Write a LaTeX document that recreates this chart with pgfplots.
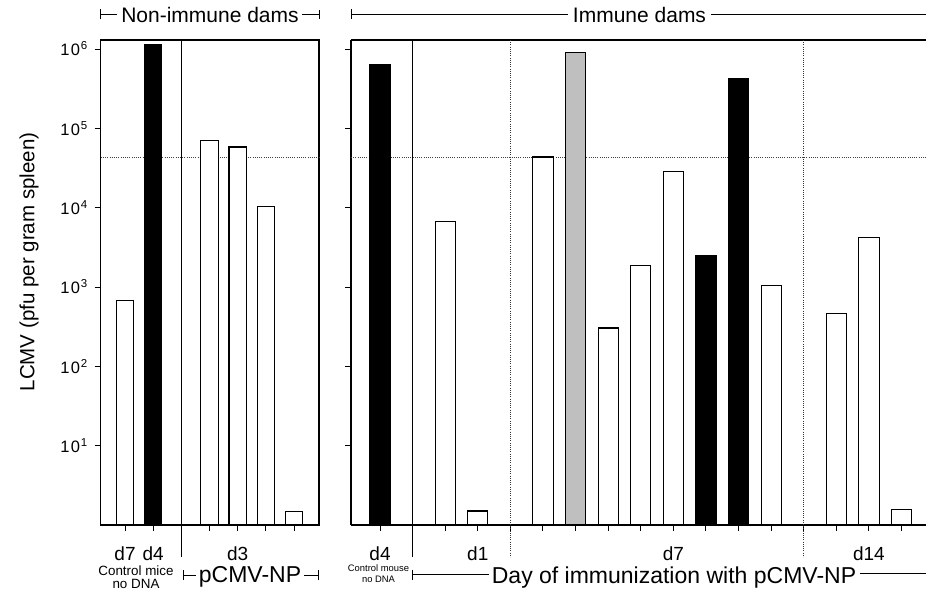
\documentclass[border=0pt]{standalone}
\usepackage{pgfplots}
\pgfplotsset{compat=1.18}
\usepackage{fontspec}
\setmainfont{Liberation Sans}
\newcommand\fs[1]{\fontsize{#1}{#1}\selectfont}
\newcommand\tl[1]{1\kern1.4pt 0\kern0.6pt\raisebox{6pt}{\fs{11.5}#1}}
\pgfplotsset{
  wbar/.style={fill=white, draw=black, line width=1.1pt, bar shift=0pt},
  bbar/.style={fill=black, draw=black, line width=1.1pt, bar shift=0pt},
  gbar/.style={fill=black!25, draw=black, line width=1.1pt, bar shift=0pt},
}
\begin{document}
\begin{tikzpicture}[x=1pt,y=1pt]
\useasboundingbox (0,0) rectangle (926,590);
% ---------- left panel: non-immune dams ----------
\begin{axis}[at={(100.7pt,65pt)}, anchor=south west, scale only axis,
  width=218.3pt, height=485pt,
  ymode=log, ymin=1, ymax=1.3e6,
  xmin=0.137, xmax=7.887,
  ybar, bar width=0.62, clip=false,
  axis line style={line width=1.1pt},
  tick align=outside, major tick length=6pt,
  tick style={black, line width=1pt},
  yminorticks=false,
  xtick pos=bottom, ytick pos=left,
  ytick={10,100,1000,10000,100000,1000000},
  xticklabel style={font=\fs{19}, inner sep=0pt, yshift=-16pt, anchor=north},
  yticklabel style={font=\fs{16.5}, xshift=-4pt},
  xtick={1,2,3,4,5,6,7}, xticklabels={d7,d4,{},{},d3,{},{}},
  yticklabels={\tl{1},\tl{2},\tl{3},\tl{4},\tl{5},\tl{6}},
  ]
  \draw[black!75, line width=0.8pt, dash pattern=on 1pt off 1.2pt] (axis cs:0.137,43500) -- (axis cs:7.887,43500);
  \draw[line width=1pt] (axis cs:3,1.3e6) -- (axis cs:3,0.395);
  \addplot[wbar] coordinates {(1,671) (4,70600) (5,58200) (6,10300) (7,1.48)};
  \addplot[bbar] coordinates {(2,1150000)};
\end{axis}
% ---------- right panel: immune dams ----------
\begin{axis}[at={(351pt,65pt)}, anchor=south west, scale only axis,
  width=575pt, height=485pt,
  ymode=log, ymin=1, ymax=1.3e6,
  xmin=-0.89, xmax=16.75,
  ybar, bar width=0.62, clip=false,
  axis x line*=box, axis y line*=left,
  axis line style={line width=1.1pt},
  tick align=outside, major tick length=6pt,
  tick style={black, line width=1pt},
  yminorticks=false,
  xtick pos=bottom, ytick pos=left,
  ytick={10,100,1000,10000,100000,1000000},
  xticklabel style={font=\fs{19}, inner sep=0pt, yshift=-16pt, anchor=north},
  xtick={0,...,16},
  xticklabels={d4,{},{},d1,{},{},{},{},{},d7,{},{},{},{},{},d14,{}},
  yticklabels={},
  ]
  \draw[black!75, line width=0.8pt, dash pattern=on 1pt off 1.2pt] (axis cs:-0.89,43500) -- (axis cs:16.75,43500);
  \draw[line width=1pt] (axis cs:1,1.3e6) -- (axis cs:1,0.395);
  \draw[black!80, line width=0.8pt, dash pattern=on 1pt off 1.2pt] (axis cs:4,1.3e6) -- (axis cs:4,0.395);
  \draw[black!80, line width=0.8pt, dash pattern=on 1pt off 1.2pt] (axis cs:13,1.3e6) -- (axis cs:13,0.395);
  \addplot[wbar] coordinates {(2,6630) (3,1.5) (5,43500) (7,304) (8,1848) (9,28900) (12,1040) (14,468) (15,4180) (16,1.55)};
  \addplot[bbar] coordinates {(0,635000) (10,2490) (11,427000)};
  \addplot[gbar] coordinates {(6,915000)};
\end{axis}
% ---------- annotations ----------
\node[rotate=90, font=\fs{20.5}] at (29,328) {LCMV (pfu per gram spleen)};
% top brackets
\node[font=\fs{21}] at (210,575) {Non-immune dams};
\draw[line width=0.9pt] (100,575.5) -- (117,575.5) (100,570.5) -- (100,580.5);
\draw[line width=0.9pt] (302,575.5) -- (319,575.5) (319,571) -- (319,580);
\node[font=\fs{21}] at (639.5,575) {Immune dams};
\draw[line width=0.9pt] (351.7,576) -- (568,576) (351.7,571) -- (351.7,581);
\draw[line width=0.9pt] (711,576) -- (926,576);
% bottom labels
\node[font=\fs{13.4}] at (136,19.5) {Control mice};
\node[font=\fs{13.4}] at (136,6.5) {no DNA};
\node[font=\fs{23}, anchor=base] at (250,7.3) {pCMV-NP};
\draw[line width=0.9pt] (183,15) -- (196,15) (183,10) -- (183,20);
\draw[line width=0.9pt] (304,15) -- (318,15) (318,10) -- (318,20);
\node[font=\fs{9.4}] at (378.5,22) {Control mouse};
\node[font=\fs{9.4}] at (378.5,11) {no DNA};
\node[font=\fs{23}, anchor=base] at (674,6.7) {Day of immunization with pCMV-NP};
\draw[line width=0.9pt] (412.5,15.5) -- (489,15.5) (412.5,10.5) -- (412.5,20.5);
\draw[line width=0.9pt] (860,17) -- (926,17);
\end{tikzpicture}
\end{document}
